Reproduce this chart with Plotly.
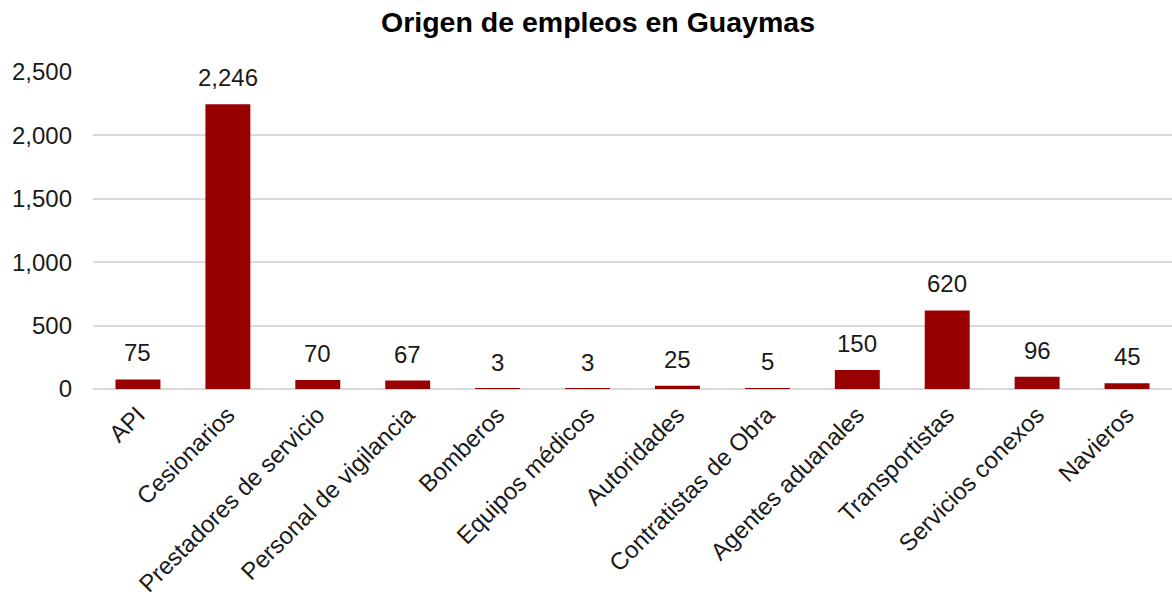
import plotly.graph_objects as go

categories = ["API", "Cesionarios", "Prestadores de servicio", "Personal de vigilancia",
              "Bomberos", "Equipos médicos", "Autoridades", "Contratistas de Obra",
              "Agentes aduanales", "Transportistas", "Servicios conexos", "Navieros"]
values = [75, 2246, 70, 67, 3, 3, 25, 5, 150, 620, 96, 45]
y_ticks = [0, 500, 1000, 1500, 2000, 2500]

FONT = "Liberation Sans, Arial"

fig = go.Figure(go.Bar(
    x=categories, y=values,
    marker=dict(color="#990000", line=dict(width=0)),
    cliponaxis=False,
))

for c, v in zip(categories, values):
    fig.add_annotation(x=c, y=v, text=f"{v:,}", showarrow=False,
                       xanchor="center", yanchor="bottom", yshift=11,
                       font=dict(family=FONT, size=24, color="#1a1a1a"))

fig.update_layout(
    width=1172, height=596,
    paper_bgcolor="white", plot_bgcolor="white",
    margin=dict(l=93, r=0, t=72, b=207, autoexpand=False),
    bargap=0.5,
    showlegend=False,
    title=dict(text="<b>Origen de empleos en Guaymas</b>", x=598 / 1172, xanchor="center",
               y=1 - 22 / 596, yanchor="middle",
               font=dict(family=FONT, size=28.5, color="black")),
    font=dict(family=FONT, size=24, color="#1a1a1a"),
)
fig.update_yaxes(range=[0, 2500], tickvals=y_ticks, tickformat=",",
                 showgrid=True, gridcolor="#d9d9d9", gridwidth=2,
                 zeroline=True, zerolinecolor="#d9d9d9", zerolinewidth=2,
                 ticks="", ticklabelstandoff=20, automargin=False,
                 tickfont=dict(family=FONT, size=24, color="#1a1a1a"))
fig.update_xaxes(tickangle=-45, showgrid=False, ticks="", showline=False,
                 automargin=False, ticklabelstandoff=6,
                 tickfont=dict(family=FONT, size=24, color="#1a1a1a"))

fig.write_html("out.html", config={"displayModeBar": False},
               post_script="document.body.style.margin='0';")
